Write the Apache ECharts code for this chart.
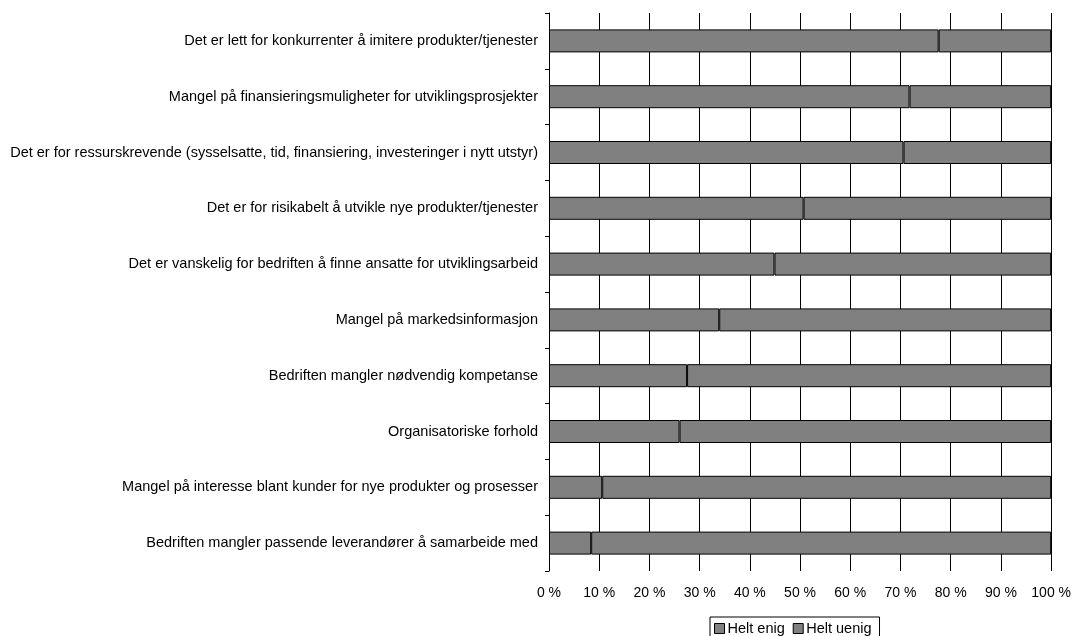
<!DOCTYPE html>
<html>
<head>
<meta charset="utf-8">
<script src="https://cdn.jsdelivr.net/npm/echarts@6/dist/echarts.min.js"></script>
<style>
  html, body { margin: 0; padding: 0; background: #fff; }
  #chart { width: 1074px; height: 636px; }
</style>
</head>
<body>
<div id="chart"></div>
<script>
// Barriers to innovation, share of answers (%) per statement, top to bottom
const categories = [
  'Det er lett for konkurrenter å imitere produkter/tjenester',
  'Mangel på finansieringsmuligheter for utviklingsprosjekter',
  'Det er for ressurskrevende (sysselsatte, tid, finansiering, investeringer i nytt utstyr)',
  'Det er for risikabelt å utvikle nye produkter/tjenester',
  'Det er vanskelig for bedriften å finne ansatte for utviklingsarbeid',
  'Mangel på markedsinformasjon',
  'Bedriften mangler nødvendig kompetanse',
  'Organisatoriske forhold',
  'Mangel på interesse blant kunder for nye produkter og prosesser',
  'Bedriften mangler passende leverandører å samarbeide med'
];
const heltEnig  = [77.6, 71.8, 70.6, 50.7, 44.9, 33.9, 27.5, 26.0, 10.6, 8.4];
const heltUenig = [22.4, 28.2, 29.4, 49.3, 55.1, 66.1, 72.5, 74.0, 89.4, 91.6];
const xTicks = [0, 10, 20, 30, 40, 50, 60, 70, 80, 90, 100];

const font = 'Liberation Sans, Arial, sans-serif';
const chart = echarts.init(document.getElementById('chart'), null, { renderer: 'canvas' });

const barStyle = { color: '#808080', borderColor: '#000', borderWidth: 1 };

chart.setOption({
  animation: false,
  backgroundColor: '#fff',
  textStyle: { fontFamily: font, color: '#000' },
  grid: { left: 549, right: 22, top: 13, bottom: 65, containLabel: false },
  legend: {
    top: 617,
    left: 710,
    itemWidth: 10,
    itemHeight: 10,
    itemGap: 8,
    padding: [4, 8, 4, 4],
    borderColor: '#000',
    borderWidth: 1,
    textStyle: { fontFamily: font, fontSize: 14.5, color: '#000', padding: [0, 0, 0, -2] },
    data: [
      { name: 'Helt enig', icon: 'rect', itemStyle: barStyle },
      { name: 'Helt uenig', icon: 'rect', itemStyle: barStyle }
    ]
  },
  xAxis: {
    type: 'value',
    min: xTicks[0],
    max: xTicks[xTicks.length - 1],
    interval: 10,
    axisLine: { show: false },
    axisTick: { show: false },
    axisLabel: {
      fontFamily: font, fontSize: 14, color: '#000', margin: 15,
      formatter: v => v + ' %'
    },
    splitLine: { show: true, lineStyle: { color: '#000', width: 1 } }
  },
  yAxis: {
    type: 'category',
    inverse: true,
    data: categories,
    axisLine: { show: true, lineStyle: { color: '#000', width: 1 } },
    axisTick: { show: true, length: 4, inside: false, lineStyle: { color: '#000' } },
    axisLabel: { fontFamily: font, fontSize: 14.5, color: '#000', margin: 11 },
    splitLine: { show: false }
  },
  series: [
    {
      name: 'Helt enig', type: 'bar', stack: 'total', barWidth: 23,
      itemStyle: barStyle, data: heltEnig
    },
    {
      name: 'Helt uenig', type: 'bar', stack: 'total', barWidth: 23,
      itemStyle: barStyle, data: heltUenig
    }
  ]
});
</script>
</body>
</html>
